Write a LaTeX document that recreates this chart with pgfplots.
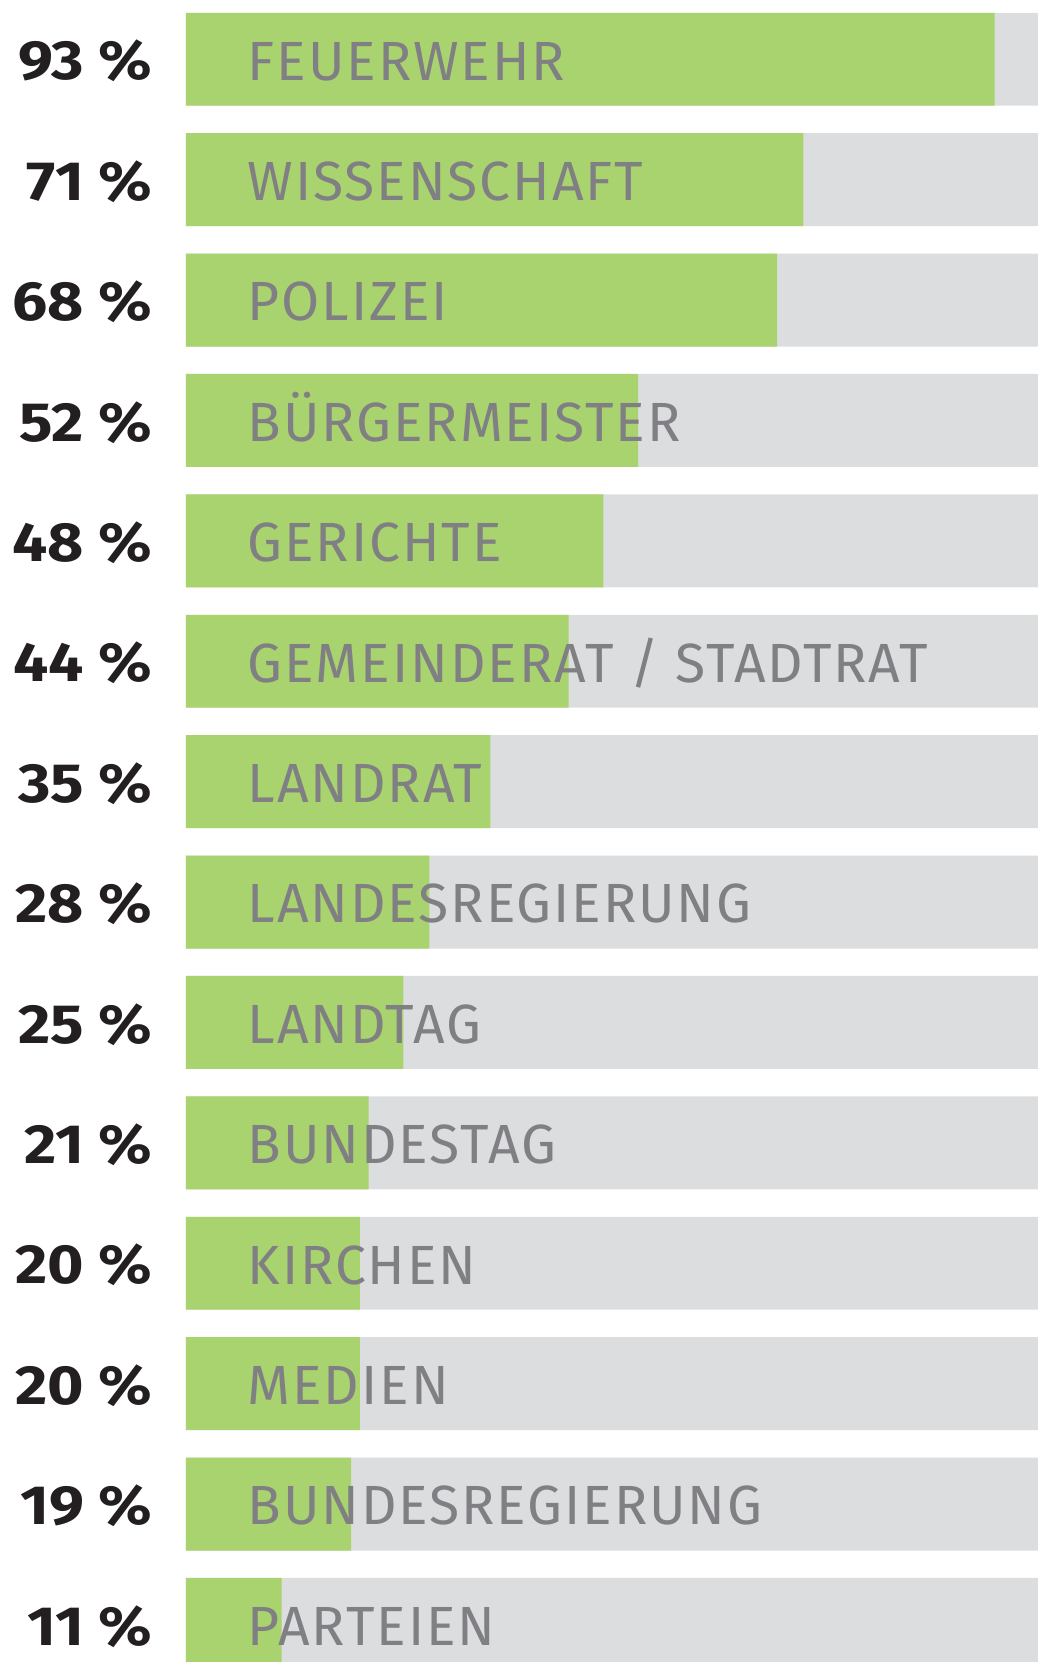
\documentclass[border=0pt]{standalone}
\usepackage{pgfplots}
\usepackage{pgfplotstable}
\usepackage{fontspec}
\pgfplotsset{compat=1.18}
\setmainfont{Fira Sans}
\newfontfamily\catfont[LetterSpace=3.5]{Fira Sans}
\newfontfamily\numfont[FakeStretch=1.13]{Fira Sans}

\definecolor{barGreen}{RGB}{169,211,110}
\definecolor{barGray}{RGB}{220,221,223}
\definecolor{labelGray}{RGB}{128,128,132}
\definecolor{numBlack}{RGB}{35,31,32}

% Vertrauen in Institutionen (Anteil in %)
\pgfplotstableread[col sep=comma]{
y,val,full,name
0,93,100,FEUERWEHR
1,71,100,WISSENSCHAFT
2,68,100,POLIZEI
3,52,100,BÜRGERMEISTER
4,48,100,GERICHTE
5,44,100,GEMEINDERAT / STADTRAT
6,35,100,LANDRAT
7,28,100,LANDESREGIERUNG
8,25,100,LANDTAG
9,21,100,BUNDESTAG
10,20,100,KIRCHEN
11,20,100,MEDIEN
12,19,100,BUNDESREGIERUNG
13,11,100,PARTEIEN
}\data

\begin{document}
\begin{tikzpicture}
\begin{axis}[
    scale only axis,
    width=259.5pt, height=415.5pt,
    xmin=-21.39, xmax=97.99,
    ymin=-0.492, ymax=13.312,
    y dir=reverse,
    hide axis,
    clip=true,
    bar width=0.772,
    bar shift=0pt,
]
% grauer Hintergrundbalken
\addplot[xbar, fill=barGray, draw=none] table[x=full, y=y] {\data};
% gruener Wert
\addplot[xbar, fill=barGreen, draw=none] table[x=val, y=y] {\data};
% Kategorien
\addplot[only marks, mark=none,
    point meta=explicit symbolic,
    nodes near coords,
    every node near coord/.append style={anchor=west, inner sep=0pt,
        text height=9.4pt, text depth=0pt, yshift=-0.5pt,
        font=\catfont\fontsize{13.8}{16}\selectfont, text=labelGray},
] table[x expr=7.0, y=y, meta=name] {\data};
% Prozentwerte
\addplot[only marks, mark=none,
    point meta=explicit symbolic,
    nodes near coords={\pgfplotspointmeta\ \%},
    every node near coord/.append style={anchor=east, inner sep=0pt,
        text height=9.3pt, text depth=0pt, yshift=-0.5pt,
        font=\numfont\bfseries\fontsize{13.8}{16}\selectfont, text=numBlack},
] table[x expr=-3.75, y=y, meta=val] {\data};
\path[draw=none] (rel axis cs:0,0) rectangle (rel axis cs:1,1);
\end{axis}
\end{tikzpicture}
\end{document}
